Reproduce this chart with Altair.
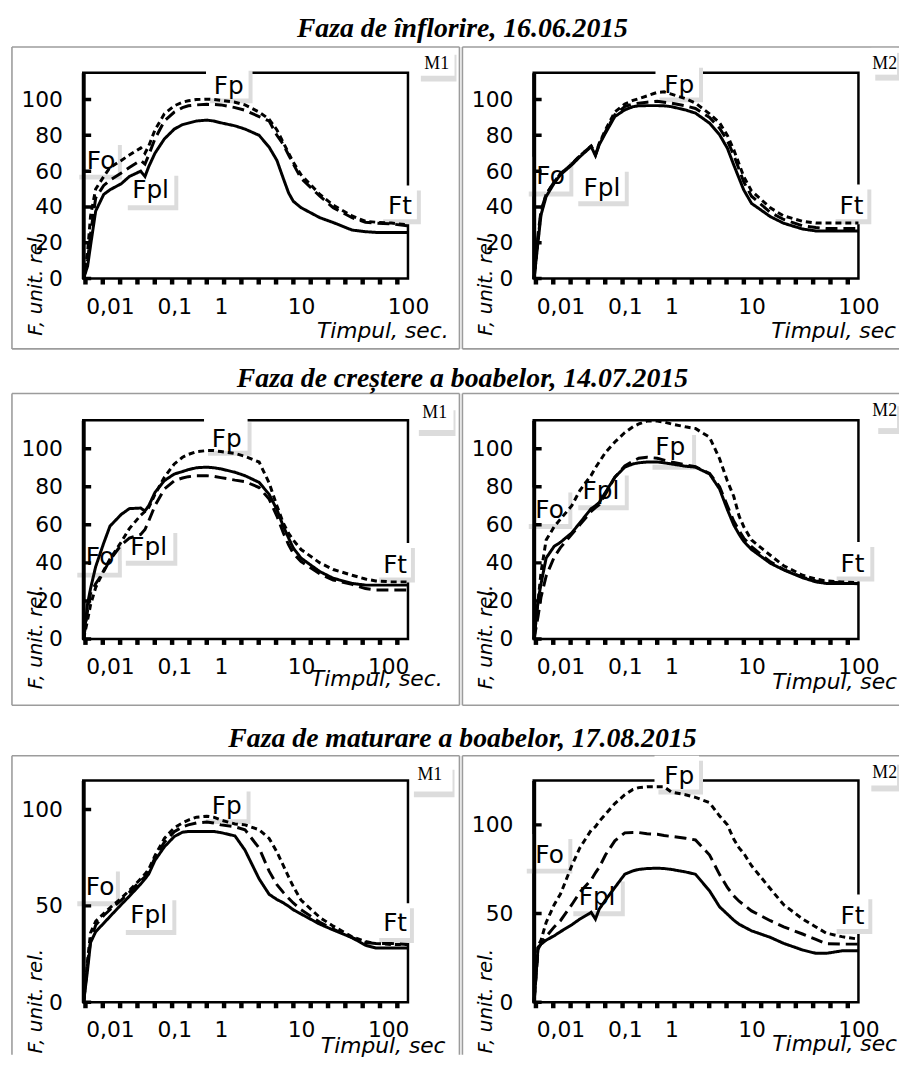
import altair as alt
import pandas as pd

# ---------------- data (time in seconds, relative fluorescence) ----------------
T = [0.0039, 0.0045, 0.005, 0.006, 0.008, 0.01, 0.015, 0.02, 0.03, 0.035, 0.04, 0.05, 0.07,
     0.1, 0.15, 0.2, 0.3, 0.5, 0.7, 1, 1.5, 2, 3, 4, 5, 6, 7, 8, 10, 15, 20, 30, 40, 50, 70, 100]

SERIES = ["solid", "long dash", "short dash"]

r1_m1_solid = [0, 7, 18.5, 37.7, 47, 49.6, 53, 57, 60, 57, 62.5, 70, 78, 83.5, 86, 86.8, 88, 88.5, 88, 87,
               85.3, 83.5, 80, 73.4, 66, 56, 47.8, 43.2, 39.6, 34, 31.3, 27.1, 26.2, 25.8, 25.8, 25.8]
r1_m1_long = [0, 10, 25, 45, 52, 55, 59, 62, 66, 64, 69, 78, 88, 93, 95.5, 96.5, 97, 97.3, 97.2, 97,
              95.5, 94, 90.5, 88, 80, 75, 69, 64, 56, 46, 39.6, 34, 31.5, 31, 30.5, 29.5]
r1_m1_short = [0, 15, 35, 50, 57, 62, 66, 69, 73, 70, 74, 83, 92, 96.5, 98.5, 99.3, 100, 100.2, 100, 99.5,
               98.5, 97, 93, 89, 83, 76, 70, 65, 58, 47, 41, 35, 32, 31.5, 31, 30]
r1_m2_solid = [0, 20.7, 35.6, 45.8, 53.3, 58, 63.5, 68, 73.7, 68.7, 74.7, 81.2, 90.5, 94.2, 96, 96.5, 96.6,
               96.6, 96.5, 96, 94.2, 92.4, 86.8, 80.3, 72.8, 63.5, 56, 49.5, 42, 34.6, 30.9, 27.7, 26.6,
               26.6, 26.6, 26.6]
r1_m2_long = [0, 25, 38, 47, 54, 58.5, 64, 68.5, 74, 69, 75, 82, 91.5, 96, 97.5, 98, 98.5, 99, 98.5, 98,
              96.5, 95, 90, 84, 77, 69, 61, 54, 46, 37, 33, 29.5, 28.5, 28, 28, 28]
r1_m2_short = [0, 22, 37, 47, 54, 58.5, 64, 68.5, 74, 69.5, 75.5, 83, 93, 97.5, 99.5, 100.5, 102, 104,
               104.3, 103, 100.5, 98, 92, 87, 80, 72, 64, 57, 49, 39.5, 35, 32, 31, 31, 31, 31]
r2_m1_solid = [0, 18.6, 26.5, 38, 50.4, 59.3, 65.5, 68.5, 68.8, 67.3, 70, 77, 83.2, 86.7, 88, 89, 90, 90.3,
               90, 89.4, 87.6, 85.8, 82.3, 76, 68, 59.3, 53, 47.8, 42.5, 35.4, 31.9, 29.2, 28.3, 28.3,
               28.3, 28.3]
r2_m1_long = [0, 15, 24, 29, 35.4, 41.6, 49.5, 53, 54.9, 57.5, 62, 70, 78.8, 83.2, 84.6, 85.3, 85.8, 85.8,
              85.5, 84.8, 83.5, 82.7, 79.6, 73.5, 64.6, 55.8, 49.5, 45, 40.7, 34.2, 31, 28.7, 26.5, 25.7,
              25.7, 25.7]
r2_m1_short = [0, 10, 18, 27, 36, 42, 51, 58, 65, 67, 69, 76, 85, 92, 95.5, 97, 98.5, 99, 99, 98.5,
               97.5, 96, 93, 82, 70, 61, 55.5, 52, 47, 40, 36.5, 33.5, 31.5, 30.5, 30, 30]
r2_m2_solid = [0, 20, 29, 42.5, 48.7, 50.8, 55.8, 61, 68.5, 70, 71.7, 77, 85, 90.3, 92, 92.6, 93, 93,
               92.6, 92, 90.8, 90.3, 86.7, 78.8, 68, 60, 55, 51.3, 47, 39.8, 36.3, 32.2, 30, 29.2, 29.2,
               29.2]
r2_m2_long = [0, 12, 22, 33, 43, 48, 55, 60, 67, 69, 70.5, 76, 85, 91, 93.5, 95, 95.5, 95, 94, 93,
              91.5, 90.5, 87, 80, 70, 62, 57, 53, 48.5, 40.5, 36.5, 32.5, 30.5, 30, 29.5, 29]
r2_m2_short = [0, 20, 35, 52, 59, 63, 70, 78, 86, 90, 93, 98, 103.5, 108.5, 111.5, 113, 114.5, 114.5,
               114, 113, 111.5, 110.6, 106, 94.7, 83, 75, 64.6, 59, 52, 44, 38.5, 33.5, 31.5, 30.5, 30,
               29.5]
r3_m1_solid = [0, 17, 31, 36.6, 41, 44.5, 50.7, 55, 61.3, 64, 66.5, 73.6, 80.6, 86, 88.2, 88.6, 88.6,
               88.6, 88.6, 88, 86.3, 78.9, 64, 56, 53.3, 51.6, 49.8, 48, 45.8, 40.5, 37.5, 33.5, 29.6,
               28.2, 28.2, 28.2]
r3_m1_long = [0, 20, 32, 40, 45, 48, 53, 57, 63, 65, 67.5, 75, 83, 88.5, 91, 92, 93, 93.5, 93, 92,
              91, 89.5, 80, 68, 61, 57, 54, 51.5, 48, 41.5, 38, 33.5, 31, 30.5, 30.5, 30]
r3_m1_short = [0, 22, 36, 42, 46, 49, 54, 58, 64, 66.5, 69, 76, 85, 90.5, 93, 94.5, 96, 96.5, 96, 94.5,
               92.5, 92, 89.5, 85, 78, 71, 65, 60, 53, 44, 39.5, 34, 31.5, 30.5, 30, 30]
r3_m2_solid = [0, 31, 32.8, 35, 37.5, 39.8, 43.7, 46.9, 50.7, 46.9, 52.5, 57.6, 64.7, 72.2, 74.1, 74.9,
               75.4, 75.6, 75.4, 74.9, 73.5, 72.2, 62.8, 53.8, 49.7, 46.3, 44, 42.6, 40.3, 36.6, 33.2,
               29.5, 27.6, 27.6, 29, 29]
r3_m2_long = [0, 30, 33, 37, 42.5, 46, 55, 62, 69, 73, 76, 83, 91, 95.5, 95.7, 95.7, 95, 94.7, 94, 93.5,
              92.5, 91.5, 83, 72, 64.7, 60, 57, 55, 51.5, 46, 42.5, 38.5, 35.5, 33, 32.8, 32.8]
r3_m2_short = [0, 32, 35, 45, 55, 61, 77, 87, 97, 99, 102, 106, 112, 117, 120, 121, 121.5, 121.5, 121.5,
               118.5, 117, 115.5, 112.5, 105, 100, 92, 87, 84, 77, 64, 55, 47, 42.5, 39, 37, 35.6]

CURVES = {
    (0, 0): [r1_m1_solid, r1_m1_long, r1_m1_short],
    (0, 1): [r1_m2_solid, r1_m2_long, r1_m2_short],
    (1, 0): [r2_m1_solid, r2_m1_long, r2_m1_short],
    (1, 1): [r2_m2_solid, r2_m2_long, r2_m2_short],
    (2, 0): [r3_m1_solid, r3_m1_long, r3_m1_short],
    (2, 1): [r3_m2_solid, r3_m2_long, r3_m2_short],
}

ROW_TITLES = ["Faza de înflorire, 16.06.2015",
              "Faza de creștere a boabelor, 14.07.2015",
              "Faza de maturare a boabelor, 17.08.2015"]
PANEL_TAGS = ["M1", "M2"]
POINT_LABELS = ["Fo", "Fpl", "Fp", "Ft"]
X_TICK_VALUES = [0.01, 0.1, 1, 10, 100]
Y_TICKS = [[0, 20, 40, 60, 80, 100], [0, 20, 40, 60, 80, 100], [0, 50, 100]]
Y_MAX = {(0, 0): 115, (0, 1): 115, (1, 0): 115, (1, 1): 115, (2, 0): 115, (2, 1): 125}
X_TITLES = {(0, 0): "Timpul, sec.", (0, 1): "Timpul, sec", (1, 0): "Timpul, sec.",
            (1, 1): "Timpul, sec", (2, 0): "Timpul, sec", (2, 1): "Timpul, sec"}
Y_TITLE = "F, unit. rel."
N_MINOR_TICKS = 19

# ---------------- layout / style (pixels, relative to each plot area) ----------------
W = 328
HEIGHTS = [208, 221, 224]
ROW_SPACING = 143
COL_SPACING = 127
XDOM = [0.00385, 0.01, 0.1, 1, 10, 100]
XRANGE = [0, 27, 92, 139, 220, 328]
TICK_STEP = 17.5
TICK_COLOR = "black"

BOXES = {
    (0, 0): [(-8, 39, 68, 108, 18, 89), (41, 96, 99, 139, 68, 119), (124, 171, -7, 31, 147, 14), (299, 341, 114, 153, 320, 135)],
    (0, 1): [(-9, 40, 85, 125, 17, 104), (41, 96, 95, 135, 69, 117), (123, 171, -10, 30, 147, 13), (301, 341, 113, 153, 321, 135)],
    (1, 0): [(-10, 39, 119, 159, 17, 138), (39, 95, 109, 147, 66, 128), (122, 170, -3, 36, 145, 19), (295, 335, 124, 164, 315, 146)],
    (1, 1): [(-9, 39, 68, 110, 16, 91), (41, 96, 51, 91, 68, 72), (116, 164, 10, 50, 138, 27), (302, 344, 123, 163, 322, 145)],
    (2, 0): [(-10, 37, 87, 127, 17, 108), (39, 94, 116, 156, 66, 136), (120, 169, 6, 44, 145, 26), (295, 334, 124, 164, 315, 144)],
    (2, 1): [(-11, 39, 54, 94, 16, 75), (36, 92, 97, 137, 64, 118), (122, 171, -25, 14, 147, -4), (302, 342, 115, 155, 322, 137)],
}
MBOX = {
    (0, 0): (337, 377, -23, 3, 357, -9, "center"),
    (0, 1): (341, 369, -25, 2, 367, -9, "right"),
    (1, 0): (335, 376, -15, 10, 355, -7, "center"),
    (1, 1): (344, 369, -19, 8, 367, -9, "right"),
    (2, 0): (330, 375, -16, 11, 350, -6, "center"),
    (2, 1): (337, 369, -21, 5, 367, -8, "right"),
}
XTITLE_POS = {(0, 0): (236, 268), (0, 1): (240, 268), (1, 0): (230, 269),
              (1, 1): (241, 272), (2, 0): (240, 275), (2, 1): (241, 273)}
YTITLE_POS = {0: 213, 1: 219, 2: 223}
FRAME_TB = {0: (-26, 279), 1: (-27, 288), 2: (-25, None)}
ROW_TITLE_Y = {0: -36, 1: -34, 2: -34}
ANCHOR_TOP = -90
PAGE_TOP_PAD = -32

SANS = "DejaVu Sans"
SERIF = "Liberation Serif"


def px(field):
    return alt.X(field, type="quantitative", scale=None, axis=None)


def py(field):
    return alt.Y(field, type="quantitative", scale=None, axis=None)


def seg_layer(df, color, width):
    return alt.Chart(df).mark_rule(color=color, strokeWidth=width).encode(
        x=px("x1"), x2="x2:Q", y=py("y1"), y2="y2:Q")


def rect_layer(df, color):
    return alt.Chart(df).mark_rect(color=color).encode(
        x=px("x1"), x2="x2:Q", y=py("y1"), y2="y2:Q")


def panel(r, c):
    h = HEIGHTS[r]
    key = (r, c)
    pid = f"p{r}{c}"
    layers = []

    if key == (0, 0):
        anchor = pd.DataFrame({"x1": [-74], "x2": [824], "y1": [ANCHOR_TOP], "y2": [1062 - 69]})
        layers.append(alt.Chart(anchor).mark_rect(opacity=0).encode(
            x=px("x1"), x2="x2:Q", y=py("y1"), y2="y2:Q"))

    row_top_page = [69, 69 + HEIGHTS[0] + ROW_SPACING, 69 + HEIGHTS[0] + HEIGHTS[1] + 2 * ROW_SPACING][r]
    left = -72
    right = 380 if c == 0 else 369
    top, bottom = FRAME_TB[r]
    if bottom is None:
        bottom = 1061 - row_top_page
        segs = [(left, right, top, top), (left, left, top, bottom)]
    else:
        segs = [(left, right, top, top), (left, left, top, bottom), (left, right, bottom, bottom)]
    if c == 0:
        segs.append((right, right, top, bottom))
    layers.append(seg_layer(pd.DataFrame(segs, columns=["x1", "x2", "y1", "y2"]), "#9c9c9c", 1.6))

    if c == 0:
        tdf = pd.DataFrame({"x": [383], "y": [ROW_TITLE_Y[r]], "t": [ROW_TITLES[r]]})
        layers.append(alt.Chart(tdf).mark_text(
            font=SERIF, fontSize=28, fontStyle="italic", fontWeight="bold", color="black",
            align="center", baseline="alphabetic").encode(x=px("x"), y=py("y"), text="t:N"))

    b = BOXES[key]
    shadow = pd.DataFrame({"x1": [q[0] + 4 for q in b], "x2": [q[1] for q in b],
                           "y1": [q[2] + 5 for q in b], "y2": [q[3] for q in b]})
    white = pd.DataFrame({"x1": [q[0] for q in b], "x2": [q[1] - 4 for q in b],
                          "y1": [q[2] for q in b], "y2": [q[3] - 5 for q in b]})
    labs = pd.DataFrame({"x": [q[4] for q in b], "y": [q[5] for q in b], "t": POINT_LABELS})
    layers.append(rect_layer(shadow, "#dcdcdc"))
    layers.append(rect_layer(white, "white"))
    layers.append(alt.Chart(labs).mark_text(font=SANS, fontSize=25, color="black",
                                            align="center", baseline="middle").encode(
        x=px("x"), y=py("y"), text="t:N"))

    m = MBOX[key]
    msh = pd.DataFrame({"x1": [m[0] + 4], "x2": [m[1]], "y1": [m[2] + 5], "y2": [m[3] + 6]})
    mwh = pd.DataFrame({"x1": [m[0]], "x2": [m[1] - 2], "y1": [m[2]], "y2": [m[3]]})
    mtx = pd.DataFrame({"x": [m[4]], "y": [m[5]], "t": [PANEL_TAGS[c]]})
    layers.append(rect_layer(msh, "#dcdcdc"))
    layers.append(rect_layer(mwh, "white"))
    layers.append(alt.Chart(mtx).mark_text(font=SERIF, fontSize=18, color="black",
                                           align=m[6], baseline="middle").encode(
        x=px("x"), y=py("y"), text="t:N"))

    # bottom minor ticks (evenly spaced blocks under the axis); panel id keeps the table unique
    k = list(range(N_MINOR_TICKS))
    xtk = pd.DataFrame({"panel": [pid] * len(k),
                        "x1": [i * TICK_STEP for i in k], "x2": [4.5 + i * TICK_STEP for i in k],
                        "y1": [h] * len(k), "y2": [h + 6] * len(k)})
    layers.append(rect_layer(xtk, TICK_COLOR))

    rows = []
    for name, vals in zip(SERIES, CURVES[key]):
        assert len(vals) == len(T)
        for t, v in zip(T, vals):
            rows.append({"t": t, "v": v, "s": name})
    df = pd.DataFrame(rows)

    label_offset = 0
    if c == 0 and r > 0:
        label_offset = {"condition": {"test": "datum.value == 100", "value": -20}, "value": 0}

    x_enc = alt.X("t:Q",
                  scale=alt.Scale(type="log", domain=XDOM, range=XRANGE, nice=False, zero=False),
                  axis=alt.Axis(values=X_TICK_VALUES, ticks=False, domain=False, grid=False,
                                labelExpr="replace(format(datum.value, '~g'), '.', ',')",
                                labelFont=SANS, labelFontSize=22, labelColor="black",
                                labelPadding=18, labelFlush=False, labelOverlap=False,
                                labelOffset=label_offset, title=None))
    y_enc = alt.Y("v:Q",
                  scale=alt.Scale(domain=[0, Y_MAX[key]], nice=False, zero=False),
                  axis=alt.Axis(values=Y_TICKS[r], ticks=False, grid=False, domain=True,
                                domainColor="black", domainWidth=4, labelFont=SANS,
                                labelFontSize=22, labelColor="black", labelPadding=21,
                                title=None, zindex=1))
    layers.append(alt.Chart(df).mark_line(color="black", strokeWidth=3).encode(
        x=x_enc, y=y_enc,
        strokeDash=alt.StrokeDash("s:N", scale=alt.Scale(domain=SERIES, range=[[1, 0], [12, 6], [6, 4]]),
                                  legend=None),
        detail="s:N"))

    # inward y ticks through the y scale
    n = len(Y_TICKS[r])
    ytk = pd.DataFrame({"panel": [pid] * n, "v": Y_TICKS[r], "v2": Y_TICKS[r],
                        "x1": [0] * n, "x2": [8] * n})
    layers.append(alt.Chart(ytk).mark_rect(fill=TICK_COLOR, stroke=TICK_COLOR, strokeWidth=3.5).encode(
        y=y_enc, y2="v2:Q", x=px("x1"), x2="x2:Q"))

    xt = XTITLE_POS[key]
    layers.append(alt.Chart(pd.DataFrame({"x": [xt[0]], "y": [xt[1]], "t": [X_TITLES[key]]})).mark_text(
        font=SANS, fontSize=22, fontStyle="italic", color="black", align="left",
        baseline="alphabetic").encode(x=px("x"), y=py("y"), text="t:N"))
    layers.append(alt.Chart(pd.DataFrame({"panel": [pid], "x": [-48], "y": [YTITLE_POS[r]],
                                          "t": [Y_TITLE]})).mark_text(
        font=SANS, fontSize=20, fontStyle="italic", color="black", align="center",
        baseline="middle", angle=270).encode(x=px("x"), y=py("y"), text="t:N"))

    return alt.layer(*layers).properties(width=W, height=h)


charts = [panel(r, c) for r in range(3) for c in range(2)]

chart = alt.concat(*charts, columns=2, spacing={"row": ROW_SPACING, "column": COL_SPACING},
                   bounds="flush", align="each").properties(
    padding={"left": 0, "top": PAGE_TOP_PAD, "right": 0, "bottom": 0}, background="white"
).configure_view(stroke="black", strokeWidth=2.5)

chart.save("out.html", embed_options={"renderer": "svg", "actions": False})
